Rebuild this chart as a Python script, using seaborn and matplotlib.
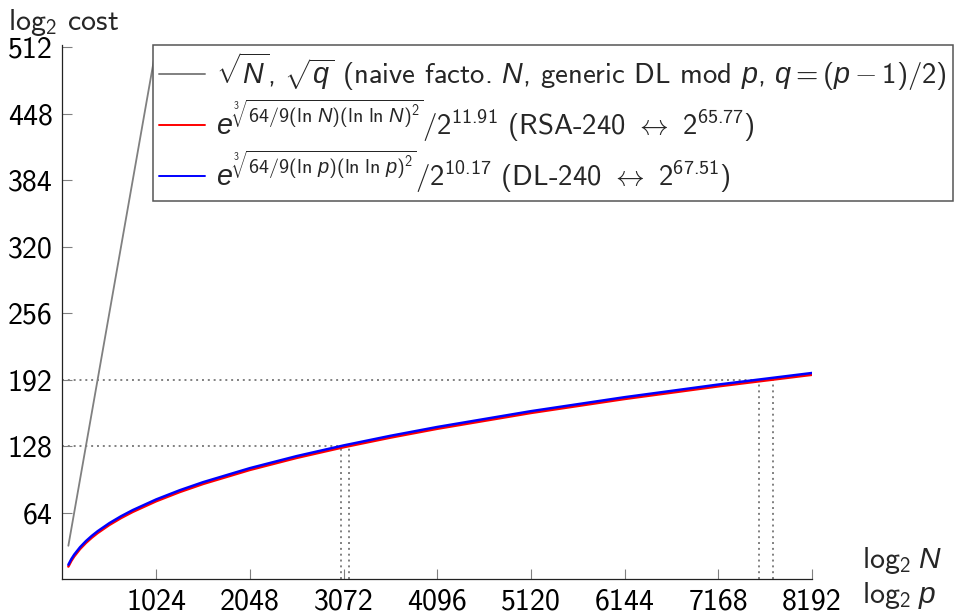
import pandas as pd
import matplotlib
matplotlib.use("Agg")
import matplotlib.pyplot as plt
import seaborn as sns

# values
bits = [64, 96, 128, 192, 256, 320, 384, 512, 640, 768, 1024, 1280, 1536,
        2048, 2560, 3072, 3584, 4096, 5120, 6144, 7168, 8192]
rsa_cost = [11.97, 17.35, 21.75, 28.90, 34.75, 39.79, 44.26, 52.02, 58.69, 64.60,
            74.86, 83.66, 91.46, 104.97, 116.57, 126.83, 136.09, 144.59, 159.81,
            173.27, 185.43, 196.56]
dl_cost = [13.71, 19.09, 23.49, 30.64, 36.49, 41.53, 46.00, 53.76, 60.43, 66.34,
           76.60, 85.40, 93.20, 106.71, 118.31, 128.57, 137.83, 146.33, 161.55,
           175.01, 187.17, 198.30]
naive_bits = [64, 1024]
naive_cost = [32, 512]

levels = [128, 192]
rsa_cross = [3136, 7771]
dl_cross = [3045, 7614]

x_ticks = [1024, 2048, 3072, 4096, 5120, 6144, 7168, 8192]
y_ticks = [64, 128, 192, 256, 320, 384, 448, 512]

lab_naive = r"$\sqrt{N}$, $\sqrt{q}$ (naive facto. $N$, generic DL mod $p$, $q=(p-1)/2$)"
lab_rsa = r"$e^{\sqrt[3]{64/9(\ln\,N)(\ln\,\ln\,N)^2}}/2^{11.91}$ (RSA-240 $\leftrightarrow$ $2^{65.77}$)"
lab_dl = r"$e^{\sqrt[3]{64/9(\ln\,p)(\ln\,\ln\,p)^2}}/2^{10.17}$ (DL-240 $\leftrightarrow$ $2^{67.51}$)"

sns.set_style("ticks")
plt.rcParams["font.family"] = "cmss10"
plt.rcParams["mathtext.fontset"] = "custom"
plt.rcParams["mathtext.rm"] = "cmss10"
plt.rcParams["mathtext.sf"] = "cmss10"
plt.rcParams["mathtext.it"] = "Liberation Sans:italic"
plt.rcParams["axes.unicode_minus"] = False
plt.rcParams["font.size"] = 21.5

fig = plt.figure(figsize=(9.61, 6.14), dpi=100)
ax = fig.add_axes([62.5 / 961, 1 - 579 / 614, (812 - 62.5) / 961, (579 - 45) / 614])

curves = pd.DataFrame({"bits": bits, "rsa": rsa_cost, "dl": dl_cost})
naive = pd.DataFrame({"bits": naive_bits, "cost": naive_cost})

# dotted guides at the 128 and 192 levels
for lvl, xr, xd in zip(levels, rsa_cross, dl_cross):
    ax.plot([0, xr], [lvl, lvl], ls=(0, (1, 2)), color="#808080", lw=1.4, zorder=1)
    ax.plot([xr, xr], [0, lvl], ls=(0, (1, 2)), color="#808080", lw=1.4, zorder=1)
    ax.plot([xd, xd], [0, lvl], ls=(0, (1, 2)), color="#808080", lw=1.4, zorder=1)

sns.lineplot(data=naive, x="bits", y="cost", color="#808080", lw=1.3, ax=ax, label=lab_naive)
sns.lineplot(data=curves, x="bits", y="rsa", color="red", lw=1.8, ax=ax, label=lab_rsa)
sns.lineplot(data=curves, x="bits", y="dl", color="blue", lw=1.8, ax=ax, label=lab_dl)

ax.set_xlim(0, 8192)
ax.set_ylim(0, 514)
ax.set_xticks(x_ticks)
ax.set_yticks(y_ticks)
ax.tick_params(direction="in", length=7, width=0.8, color="#808080", labelcolor="black")
ax.tick_params(axis="y", pad=7)
ax.tick_params(axis="x", pad=7)
ax.set_xlabel("")
ax.set_ylabel("")
for s in ["top", "right"]:
    ax.spines[s].set_visible(False)
for s in ["left", "bottom"]:
    ax.spines[s].set_linewidth(0.9)
    ax.spines[s].set_color("#222222")

fig.text(8 / 961, 1 - 30 / 614, r"$\log_2\;$cost", ha="left", va="baseline")
fig.text(862 / 961, 1 - 568 / 614, r"$\log_2\,N$", ha="left", va="baseline")
fig.text(862 / 961, 1 - 603 / 614, r"$\log_2\,p$", ha="left", va="baseline")

leg = ax.legend(loc="upper left", bbox_to_anchor=(153 / 961, 1 - 45 / 614),
                bbox_transform=fig.transFigure, frameon=True, fancybox=False,
                framealpha=1, edgecolor="#555555", handlelength=1.6, fontsize=20.7,
                handletextpad=0.4, borderaxespad=0, borderpad=0.2, labelspacing=0.15)
leg.get_frame().set_linewidth(1.1)
for h in leg.get_lines():
    h.set_linewidth(1.4)

fig.savefig("out.png", dpi=100)
